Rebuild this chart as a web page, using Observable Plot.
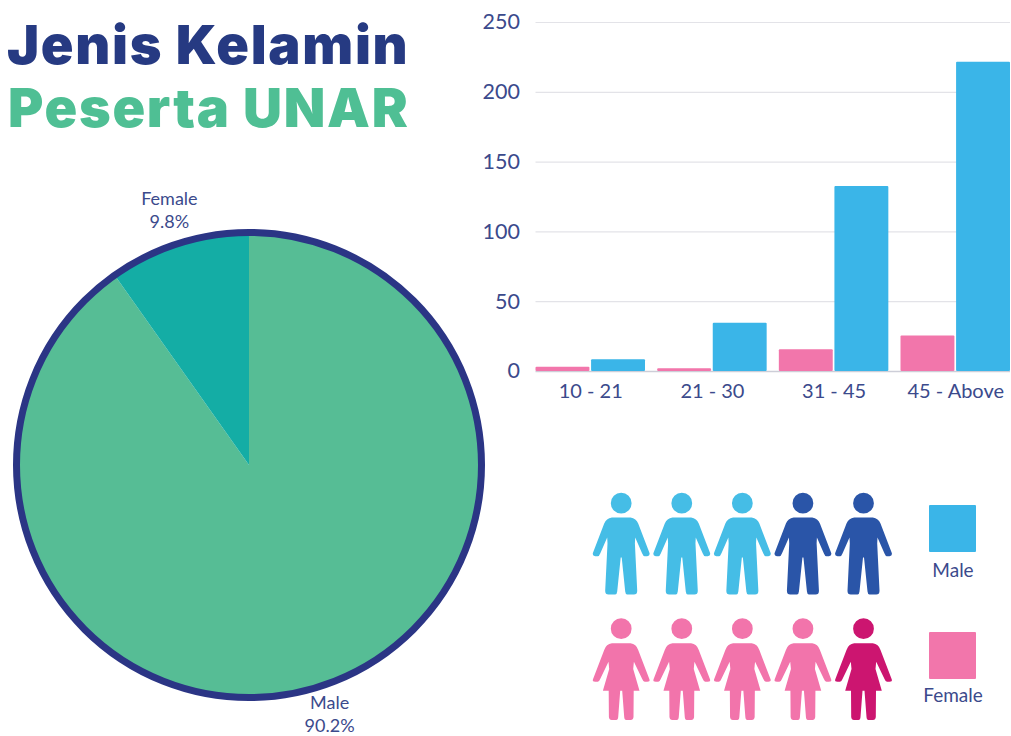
<!DOCTYPE html>
<html><head><meta charset="utf-8">
<script src="https://cdn.jsdelivr.net/npm/d3@7"></script>
<script src="https://cdn.jsdelivr.net/npm/@observablehq/plot@0.6"></script>
<style>
html,body{margin:0;padding:0;background:#fff}
#stage{position:relative;width:1011px;height:736px;overflow:hidden;font-family:Lato,sans-serif;color:#3b4a8c}
#stage>div,#stage>svg,#stage>figure{position:absolute;margin:0}
.t{font-family:Inter,sans-serif;font-weight:900;font-size:54px;letter-spacing:1.7px;line-height:60px;white-space:nowrap}
.sw{width:47px;height:47px;border-radius:1px}
.lab{font-size:19px;line-height:20px;width:100px;text-align:center}
</style></head><body><div id="stage"></div>
<script>
const titleLines = ["Jenis Kelamin", "Peserta UNAR"];
const sexes = ["Female", "Male"];
const ageGroups = ["10 - 21", "21 - 30", "31 - 45", "45 - Above"];
const femaleCounts = [3, 2, 15.5, 25.5];
const maleCounts = [8.5, 34.5, 132.5, 221.5];
const yTicks = [0, 50, 100, 150, 200, 250];
const pieLabels = ["Male", "Female"];
const pieShares = [90.2, 9.8];
const pieColors = ["#56bd95", "#14ada5"];
const iconSlots = [1, 2, 3, 4, 5];
const maleShades = ["light", "light", "light", "dark", "dark"];
const femaleShades = ["light", "light", "light", "light", "dark"];

const stage = document.getElementById("stage");
const place = (el, left, top) => { el.style.left = left + "px"; el.style.top = top + "px"; stage.append(el); return el; };

// Title
[["#263a82", 7, 15], ["#4fbf94", 8, 78]].forEach(([c, l, t], i) => {
  const d = document.createElement("div");
  d.className = "t"; d.textContent = titleLines[i]; d.style.color = c;
  place(d, l, t);
});

// Pie
const arcs = d3.pie().sort(null).value(d => d.share)(pieLabels.map((label, i) => ({label, share: pieShares[i], color: pieColors[i]})));
const pieRows = arcs.map(a => {
  const mid = (a.startAngle + a.endAngle) / 2;
  return {text: `${a.data.label}\n${a.data.share}%`, x: Math.sin(mid) * 1.12, y: Math.cos(mid) * 1.12};
});
const pie = Plot.plot({
  width: 500, height: 736, marginLeft: 13, marginRight: 15, marginTop: 229, marginBottom: 35,
  style: {background: "transparent", fontFamily: "Lato, sans-serif", fontSize: "18px", color: "#3b4a8c", overflow: "visible"},
  x: {domain: [-1, 1], axis: null}, y: {domain: [-1, 1], axis: null},
  marks: [
    (index, scales) => {
      const g = d3.create("svg:g");
      const cx = scales.x(0), cy = scales.y(0), r = scales.x(1) - cx - 3.5;
      const arc = d3.arc().innerRadius(0).outerRadius(r);
      g.selectAll("path").data(arcs).join("path")
        .attr("transform", `translate(${cx},${cy})`).attr("d", arc).attr("fill", d => d.data.color);
      g.append("circle").attr("cx", cx).attr("cy", cy).attr("r", r)
        .attr("fill", "none").attr("stroke", "#2b3585").attr("stroke-width", 7);
      return g.node();
    },
    Plot.text(pieRows, {x: "x", y: "y", text: "text", lineHeight: 1.3, dy: -4.5, fill: "#3b4a8c"})
  ]
});
place(pie, 0, 0);

// Bar chart: the grid and the y axis lie on one plot, the faceted bars on a second one with the same frame
const frame = {width: 541, height: 410, marginLeft: 65.5, marginRight: 1, marginTop: 22, marginBottom: 39};
const barStyle = {background: "transparent", fontFamily: "Lato, sans-serif", fontSize: "20px", color: "#3b4a8c"};
const barGrid = Plot.plot({
  ...frame, style: barStyle,
  y: {domain: [0, 250], label: null},
  marks: [
    Plot.ruleY(yTicks.slice(1), {stroke: "#e3e3e8", strokeWidth: 1.2}),
    Plot.ruleY([0], {stroke: "#cdced8", strokeWidth: 1.5}),
    Plot.axisY({ticks: yTicks, tickSize: 0, tickPadding: 16, label: null, fill: "#3b4a8c", fontSize: 21.5})
  ]
});
place(barGrid, 470, 0);
const barRows = ageGroups.flatMap((age, i) => [
  {age, sex: "Female", value: femaleCounts[i]},
  {age, sex: "Male", value: maleCounts[i]}
]);
const bars = Plot.plot({
  ...frame, style: barStyle,
  fx: {domain: ageGroups, paddingInner: 0.1, paddingOuter: 0, round: false, label: null},
  x: {domain: sexes, paddingInner: 0.03, paddingOuter: 0, round: false, axis: null},
  y: {domain: [0, 250], axis: null},
  color: {domain: sexes, range: ["#f276ab", "#3ab5e8"]},
  marks: [
    Plot.axisFx({anchor: "bottom", tickSize: 0, tickPadding: 12, label: null, fill: "#3b4a8c"}),
    Plot.barY(barRows, {fx: "age", x: "sex", y: "value", fill: "sex", r: 1})
  ]
});
place(bars, 470, 0);

// Pictogram
const maleBody = p => {
  p.moveTo(-9.3, -26);
  p.lineTo(9.3, -26);
  p.quadraticCurveTo(15, -25, 17, -20);
  p.lineTo(28.3, 9.5);
  p.quadraticCurveTo(29, 12.7, 26, 12.7);
  p.lineTo(23.5, 12.7);
  p.quadraticCurveTo(22, 12.7, 21, 10);
  p.lineTo(14, -6);
  p.lineTo(13.7, 0);
  p.lineTo(16, 47);
  p.quadraticCurveTo(16.2, 51, 12.7, 51);
  p.lineTo(6, 51);
  p.quadraticCurveTo(4.3, 51, 4, 48);
  p.lineTo(0.5, 14);
  p.lineTo(-0.5, 14);
  p.lineTo(-4, 48);
  p.quadraticCurveTo(-4.3, 51, -6, 51);
  p.lineTo(-12.7, 51);
  p.quadraticCurveTo(-16.2, 51, -16, 47);
  p.lineTo(-13.7, 0);
  p.lineTo(-14, -6);
  p.lineTo(-21, 10);
  p.quadraticCurveTo(-22, 12.7, -23.5, 12.7);
  p.lineTo(-26, 12.7);
  p.quadraticCurveTo(-29, 12.7, -28.3, 9.5);
  p.lineTo(-17, -20);
  p.quadraticCurveTo(-15, -25, -9.3, -26);
  p.closePath();
};
const femaleBody = p => {
  p.moveTo(-9.3, -25.7);
  p.lineTo(9.3, -25.7);
  p.quadraticCurveTo(15, -25, 17, -19);
  p.lineTo(28.3, 10.5);
  p.quadraticCurveTo(29, 12.7, 26, 12.7);
  p.lineTo(23.5, 12.7);
  p.quadraticCurveTo(22, 12.7, 21, 10);
  p.lineTo(12.7, -7.3);
  p.lineTo(12, 0);
  p.lineTo(18.3, 21.7);
  p.lineTo(12.5, 21.7);
  p.lineTo(12.3, 48);
  p.quadraticCurveTo(12, 51, 9.5, 51);
  p.lineTo(5, 51);
  p.quadraticCurveTo(3.2, 51, 3, 48);
  p.lineTo(1, 21.7);
  p.lineTo(-1, 21.7);
  p.lineTo(-3, 48);
  p.quadraticCurveTo(-3.2, 51, -5, 51);
  p.lineTo(-9.5, 51);
  p.quadraticCurveTo(-12, 51, -12.3, 48);
  p.lineTo(-12.5, 21.7);
  p.lineTo(-18.3, 21.7);
  p.lineTo(-12, 0);
  p.lineTo(-12.7, -7.3);
  p.lineTo(-21, 10);
  p.quadraticCurveTo(-22, 12.7, -23.5, 12.7);
  p.lineTo(-26, 12.7);
  p.quadraticCurveTo(-29, 12.7, -28.3, 10.5);
  p.lineTo(-17, -19);
  p.quadraticCurveTo(-15, -25, -9.3, -25.7);
  p.closePath();
};
const person = body => ({
  draw(ctx) {
    ctx.moveTo(10.4, -40.3);
    ctx.arc(0, -40.3, 10.4, 0, 2 * Math.PI);
    ctx.closePath();
    body(ctx);
  }
});
const iconRow = (sex, shades) => iconSlots.map((slot, i) => ({slot, sex, tone: `${sex} ${shades[i]}`}));
const icons = Plot.plot({
  width: 320, height: 250, marginLeft: 40.7, marginRight: 37, marginTop: 63, marginBottom: 61.5,
  style: {background: "transparent"},
  x: {type: "point", domain: iconSlots, padding: 0, round: false, axis: null},
  y: {type: "point", domain: ["Male", "Female"], padding: 0, round: false, axis: null},
  color: {domain: ["Male light", "Male dark", "Female light", "Female dark"], range: ["#45bde6", "#2a55a8", "#f274ab", "#cc1570"]},
  marks: [
    Plot.dot(iconRow("Male", maleShades), {x: "slot", y: "sex", fill: "tone", r: 10, symbol: () => person(maleBody)}),
    Plot.dot(iconRow("Female", femaleShades), {x: "slot", y: "sex", fill: "tone", r: 10, symbol: () => person(femaleBody)})
  ]
});
place(icons, 580, 480);

// Legend
[["Male", "#3ab5e8", 505, 560], ["Female", "#f276ab", 632, 685]].forEach(([name, color, sy, ly]) => {
  const s = document.createElement("div");
  s.className = "sw"; s.style.background = color;
  place(s, 929, sy);
  const l = document.createElement("div");
  l.className = "lab"; l.textContent = name;
  place(l, 903, ly);
});
</script></body></html>
